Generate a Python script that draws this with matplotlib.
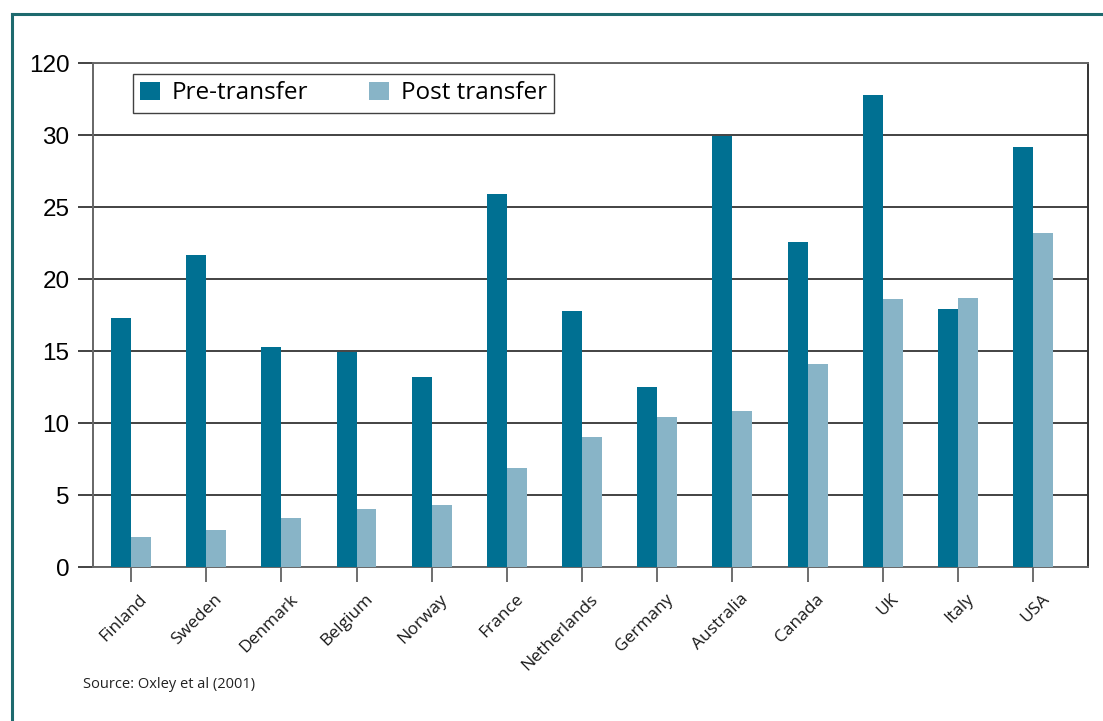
import matplotlib
matplotlib.use("Agg")
import matplotlib.pyplot as plt
import numpy as np
from matplotlib.lines import Line2D
from matplotlib import transforms

countries = ["Finland", "Sweden", "Denmark", "Belgium", "Norway", "France",
             "Netherlands", "Germany", "Australia", "Canada", "UK", "Italy", "USA"]
pre_transfer = [17.3, 21.7, 15.3, 14.9, 13.2, 25.9, 17.8, 12.5, 29.9, 22.6, 32.8, 17.9, 29.2]
post_transfer = [2.1, 2.6, 3.4, 4.0, 4.3, 6.9, 9.0, 10.4, 10.8, 14.1, 18.6, 18.7, 23.2]
y_ticks = [0, 5, 10, 15, 20, 25, 30, 35]
y_tick_labels = ["0", "5", "10", "15", "20", "25", "30", "120"]

PRE_COLOR = "#007092"
POST_COLOR = "#88b4c7"
FRAME_COLOR = "#1d6a6e"
TEXT_FONT = "Open Sans"
NUM_FONT = "Liberation Sans"

fig = plt.figure(figsize=(11.03, 7.21), dpi=100)
ax = fig.add_axes([93 / 1103, 1 - 567 / 721, (1088 - 93) / 1103, (567 - 63) / 721])

x = np.arange(len(countries))
w = 0.265
ax.bar(x - w / 2, pre_transfer, w, color=PRE_COLOR, label="Pre-transfer", zorder=3)
ax.bar(x + w / 2, post_transfer, w, color=POST_COLOR, label="Post transfer", zorder=3)

ax.set_xlim(-0.505, 12.73)
ax.set_ylim(0, 35)
ax.set_yticks(y_ticks)
ax.set_yticklabels(y_tick_labels, fontfamily=NUM_FONT, fontsize=17.5)
ax.tick_params(axis="y", length=11, width=1.2, color="#222222", pad=6)
ax.yaxis.grid(True, color="#222222", linewidth=1.2, zorder=1)
ax.set_axisbelow(True)

ax.set_xticks(x)
ax.tick_params(axis="x", length=11, width=1.2, color="#555555", pad=2)
ax.set_xticklabels(countries, rotation=45, ha="right", va="top",
                   rotation_mode="anchor", fontfamily=TEXT_FONT, fontsize=12.5,
                   color="#1a1a1a")
offset = transforms.ScaledTranslation(8 / 100, -6 / 100, fig.dpi_scale_trans)
for lbl in ax.get_xticklabels():
    lbl.set_transform(lbl.get_transform() + offset)

for side in ["left", "bottom", "top"]:
    ax.spines[side].set_color("#666666")
    ax.spines[side].set_linewidth(1.4)
ax.spines["right"].set_color("#333333")
ax.spines["right"].set_linewidth(1.4)

leg = ax.legend(loc="upper left", bbox_to_anchor=(40 / 995, 1 - 11 / 504), ncol=2,
                frameon=True, fancybox=False, edgecolor="#111111",
                prop={"family": TEXT_FONT, "size": 17.5},
                handlelength=0.8, handleheight=0.8, handletextpad=0.5,
                columnspacing=2.5, borderpad=0.3, borderaxespad=0)
leg.get_frame().set_linewidth(1.0)

fig.text(83 / 1103, 1 - 684 / 721, "Source: Oxley et al (2001)",
         fontfamily=TEXT_FONT, fontsize=10.5, va="center", ha="left", color="#222222")

# teal frame around the figure (left and top edges)
fig.add_artist(Line2D([11.5 / 1103, 11.5 / 1103], [0, 1 - 14 / 721],
                      transform=fig.transFigure, color=FRAME_COLOR, linewidth=2.2))
fig.add_artist(Line2D([11.5 / 1103, 1], [1 - 14 / 721, 1 - 14 / 721],
                      transform=fig.transFigure, color=FRAME_COLOR, linewidth=2.2))

fig.savefig("out.png", dpi=100)
